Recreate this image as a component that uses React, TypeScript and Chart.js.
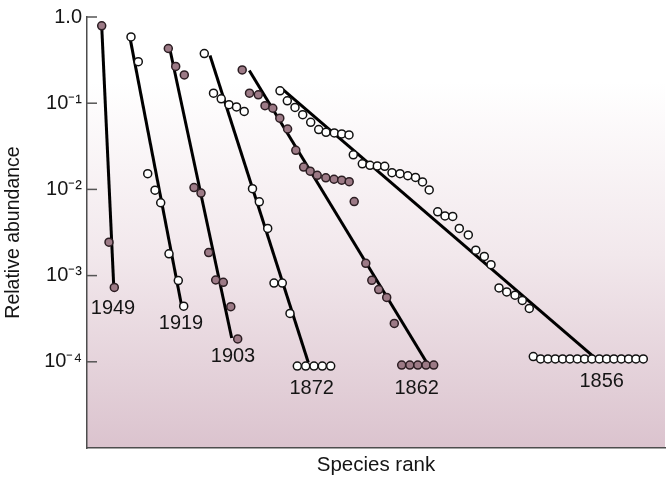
import React, { useEffect, useRef } from 'react';
import { Chart, registerables } from 'chart.js';

Chart.register(...registerables);

const FONT = '"Liberation Sans", Arial, Helvetica, sans-serif';

// y axis ticks (relative abundance)
const yTickValues = [1e-4, 1e-3, 1e-2, 1e-1, 1];
const yTickLabels = ['10⁻⁴', '10⁻³', '10⁻²', '10⁻¹', '1.0'];

const yearLabels = ['1949', '1919', '1903', '1872', '1862', '1856'];
const yearFilled = [true, false, true, false, true, false];

// species rank positions and relative abundances, by survey year
const rank1949 = [14.7, 22, 27.3];
const abund1949 = [0.79, 0.00244, 0.00073];
const fitRank1949 = [14.7, 26.7];
const fitAbund1949 = [0.79, 0.00077];

const rank1919 = [44, 51.3, 60.7, 68, 73.7, 82, 91.3, 96.7];
const abund1919 = [0.588, 0.303, 0.0152, 0.0098, 0.007, 0.00179, 0.000875, 0.000442];
const fitRank1919 = [43, 94.7];
const fitAbund1919 = [0.573, 0.000442];

const rank1903 = [81.3, 88.7, 97.3, 107, 114, 121.7, 128.7, 136.3, 143.8, 150.7];
const abund1903 = [0.431, 0.267, 0.213, 0.0105, 0.00906, 0.00185, 0.000889, 0.000836, 0.000436, 0.000184];
const fitRank1903 = [83, 144.7];
const fitAbund1903 = [0.417, 0.000189];

const rank1872 = [117.3, 126.5, 134.2, 142, 149.5, 157.2, 165.5, 172.3, 180.7, 187, 195.3, 203, 210.3, 218.7, 227, 235.3, 243.7];
const abund1872 = [0.377, 0.1306, 0.1125, 0.0962, 0.0905, 0.0803, 0.0102, 0.00718, 0.00353, 0.00082, 0.00082, 0.000364, 0.0000892, 0.0000892, 0.0000892, 0.0000892, 0.0000892];
const fitRank1872 = [123, 221.3];
const fitAbund1872 = [0.358, 0.0000982];

const rank1862 = [155.2, 162.5, 171.3, 178, 185.8, 192.8, 200.6, 208.8, 216.6, 223.2, 230.2, 238.8, 247, 254.7, 262.2, 267.2, 278.8, 284.8, 291.7, 299.7, 307.3, 314.7, 322.8, 330.8, 339, 346.7];
const abund1862 = [0.243, 0.1306, 0.1252, 0.0935, 0.0874, 0.0671, 0.0502, 0.0284, 0.01817, 0.01625, 0.01458, 0.01364, 0.01312, 0.0128, 0.0123, 0.00723, 0.00139, 0.000882, 0.000689, 0.000558, 0.000279, 0.0000916, 0.0000916, 0.0000916, 0.0000916, 0.0000916];
const fitRank1862 = [162.3, 339.7];
const fitAbund1862 = [0.24, 0.0000982];

const rank1856 = [193, 200.3, 208, 215.7, 223.7, 231.7, 239, 247.3, 254.7, 262, 266.3, 275.3, 283, 290.3, 297.7, 305, 313, 320.8, 328.5, 335.5, 342.2, 350.7, 358, 365.7, 372.3, 381.3, 388.8, 397.3, 404, 412, 419.7, 428, 435.3, 442.3, 446.3, 453.6, 460.9, 468.3, 475.6, 482.9, 490.3, 497.6, 504.9, 512.3, 519.6, 526.9, 534.3, 541.6, 548.9, 556.3];
const abund1856 = [0.139, 0.1067, 0.0893, 0.0736, 0.06, 0.0494, 0.046, 0.0452, 0.044, 0.0428, 0.0252, 0.0198, 0.019, 0.0187, 0.0185, 0.01563, 0.0152, 0.0144, 0.01375, 0.0122, 0.00987, 0.0055, 0.00492, 0.00486, 0.00353, 0.00296, 0.00197, 0.00167, 0.00134, 0.000719, 0.000646, 0.000592, 0.000514, 0.000416, 0.000115, 0.000108, 0.000108, 0.000108, 0.000108, 0.000108, 0.000108, 0.000108, 0.000108, 0.000108, 0.000108, 0.000108, 0.000108, 0.000108, 0.000108, 0.000108];
const fitRank1856 = [195.7, 508];
const fitAbund1856 = [0.145, 0.000111];

// year label anchors (data coordinates)
const labelRank = [26, 94, 146, 224.7, 329.7, 514.7];
const labelAbund = [0.000419, 0.000278, 0.0001157, 0.0000489, 0.0000489, 0.0000593];

const ranks = [rank1949, rank1919, rank1903, rank1872, rank1862, rank1856];
const abunds = [abund1949, abund1919, abund1903, abund1872, abund1862, abund1856];
const fitRanks = [fitRank1949, fitRank1919, fitRank1903, fitRank1872, fitRank1862, fitRank1856];
const fitAbunds = [fitAbund1949, fitAbund1919, fitAbund1903, fitAbund1872, fitAbund1862, fitAbund1856];

const zip = (xs: number[], ys: number[]) => xs.map((x, i) => ({ x, y: ys[i] }));

const bgPlugin = {
  id: 'bgGradient',
  beforeDraw(chart: any) {
    const { ctx, chartArea: a } = chart;
    const g = ctx.createLinearGradient(0, a.top, 0, a.bottom);
    g.addColorStop(0, '#ffffff');
    g.addColorStop(0.15, '#ffffff');
    g.addColorStop(0.55, '#f2e8ec');
    g.addColorStop(1, '#dbc3ce');
    ctx.save();
    ctx.fillStyle = g;
    ctx.fillRect(a.left, a.top, a.right - a.left, a.bottom - a.top);
    ctx.restore();
  },
};

const inwardTicks = {
  id: 'inwardTicks',
  beforeDatasetsDraw(chart: any) {
    const { ctx, chartArea: a } = chart;
    const ys = chart.scales.y;
    ctx.save();
    ctx.strokeStyle = '#555555';
    ctx.lineWidth = 1.5;
    yTickValues.forEach((v) => {
      const py = ys.getPixelForValue(v);
      ctx.beginPath();
      ctx.moveTo(a.left, py);
      ctx.lineTo(a.left + 10, py);
      ctx.stroke();
    });
    ctx.restore();
  },
};

const yearLabelPlugin = {
  id: 'yearLabels',
  afterDatasetsDraw(chart: any) {
    const { ctx } = chart;
    const xs = chart.scales.x;
    const ys = chart.scales.y;
    ctx.save();
    ctx.font = `20px ${FONT}`;
    ctx.fillStyle = '#151515';
    ctx.textAlign = 'center';
    ctx.textBaseline = 'middle';
    yearLabels.forEach((t, i) => {
      ctx.fillText(t, xs.getPixelForValue(labelRank[i]), ys.getPixelForValue(labelAbund[i]));
    });
    ctx.restore();
  },
};

export default function App() {
  const ref = useRef<HTMLCanvasElement | null>(null);

  useEffect(() => {
    if (!ref.current) return;
    const datasets: any[] = [];
    yearLabels.forEach((year, i) => {
      const filled = yearFilled[i];
      datasets.push({
        label: year,
        data: zip(ranks[i], abunds[i]),
        showLine: false,
        pointRadius: 4,
        pointBackgroundColor: filled ? '#9c7a86' : '#ffffff',
        pointBorderColor: filled ? '#2b1d22' : '#111111',
        pointBorderWidth: 1.5,
        order: 0,
      });
      datasets.push({
        label: year + ' fit',
        data: zip(fitRanks[i], fitAbunds[i]),
        showLine: true,
        borderColor: '#000000',
        borderWidth: 3,
        pointRadius: 0,
        fill: false,
        order: 1,
      });
    });

    const chart = new Chart(ref.current, {
      type: 'scatter',
      data: { datasets },
      options: {
        animation: false,
        responsive: false,
        events: [],
        layout: { padding: { top: 14, right: 6, left: 0, bottom: 0 } },
        plugins: {
          legend: { display: false },
          tooltip: { enabled: false },
        },
        scales: {
          x: {
            type: 'linear',
            min: 0,
            max: 578,
            ticks: { display: false },
            grid: { display: false, drawTicks: false },
            border: { display: true, color: '#4d4d4d', width: 1.5 },
            title: {
              display: true,
              text: 'Species rank',
              color: '#151515',
              font: { family: FONT, size: 20.5 },
              padding: { top: 0, bottom: 2 },
            },
            afterFit: (s: any) => {
              s.height = 32;
            },
          },
          y: {
            type: 'logarithmic',
            min: 1e-5,
            max: 1,
            afterBuildTicks: (s: any) => {
              s.ticks = yTickValues.map((v) => ({ value: v }));
            },
            ticks: {
              callback: (_v: any, i: number) => yTickLabels[i],
              color: '#151515',
              font: { family: FONT, size: 20 },
              padding: 5,
              autoSkip: false,
            },
            grid: { display: false, drawTicks: false },
            border: { display: true, color: '#4d4d4d', width: 1.5 },
            title: {
              display: true,
              text: 'Relative abundance',
              color: '#151515',
              font: { family: FONT, size: 19.5 },
              padding: { top: 2, bottom: 0 },
            },
            afterFit: (s: any) => {
              s.width = 87;
            },
          },
        },
      },
      plugins: [bgPlugin, inwardTicks, yearLabelPlugin],
    } as any);

    return () => chart.destroy();
  }, []);

  return (
    <div style={{ position: 'absolute', left: 0, top: 0, width: 671, height: 480, background: '#ffffff' }}>
      <canvas ref={ref} width={671} height={480} style={{ display: 'block' }} />
    </div>
  );
}
